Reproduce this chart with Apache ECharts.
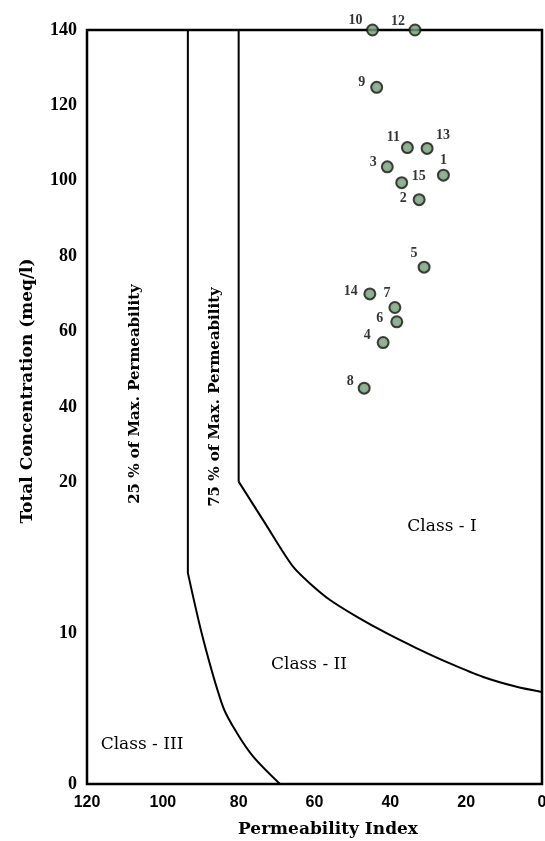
<!DOCTYPE html>
<html>
<head>
<meta charset="utf-8">
<script src="https://cdn.jsdelivr.net/npm/echarts@6/dist/echarts.min.js"></script>
<style>
  html, body { margin: 0; padding: 0; background: #fff; }
  #chart { width: 545px; height: 841px; }
</style>
</head>
<body>
<div id="chart"></div>
<script>
// ---- data ----
const pointIds   = ['1','2','3','4','5','6','7','8','9','10','11','12','13','14','15'];
const permIndex  = [26.0, 32.4, 40.8, 41.9, 31.1, 38.3, 38.8, 46.9, 43.6, 44.7, 35.5, 33.5, 30.3, 45.4, 37.0];
const totalConc  = [101.5, 95.0, 103.7, 57.1, 77.1, 62.6, 66.4, 45.0, 124.8, 140, 108.8, 140, 108.6, 70.0, 99.5];

const xTickValues = [0, 20, 40, 60, 80, 100, 120];
const yTickValues = [0, 10, 20, 40, 60, 80, 100, 120, 140];

// class boundaries (Permeability Index, Total Concentration)
const line75Vertical = [[80, 140], [80, 20.2]];
const line75Curve = [[80, 20.2], [72.8, 17.2], [69.1, 15.7], [65.6, 14.4], [61.2, 13.3], [55.9, 12.2],
                     [48.9, 11.1], [41.0, 10.0], [33.0, 9.0], [24.3, 8.0], [15.5, 7.1], [6.7, 6.45], [0, 6.1]];
const line25Vertical = [[93.4, 140], [93.4, 14.0]];
const line25Curve = [[93.4, 14.0], [89.3, 9.55], [84.1, 5.1], [80.5, 3.4], [76.1, 1.8], [69.1, 0]];

// label placement (styling)
const labelOffsets = {
  '1': [0, -15], '2': [-16, -1], '3': [-14, -4], '4': [-16, -7], '5': [-10, -14],
  '6': [-17, -3], '7': [-8, -14], '8': [-14, -7], '9': [-15, -5], '10': [-17, -10],
  '11': [-14, -10], '12': [-17, -9], '13': [16, -13], '14': [-19, -3], '15': [17, -6]
};

// broken y scale: 0..20 stretched 4x, 20..140 linear
function toD(y) { return y <= 20 ? y * 4 : y + 60; }
function fromD(d) { return d <= 80 ? d / 4 : d - 60; }
const yTickD = yTickValues.map(toD);

function conv(arr) { return arr.map(p => [p[0], toD(p[1])]); }

const chart = echarts.init(document.getElementById('chart'), null, { renderer: 'canvas' });

const scatterData = pointIds.map((id, i) => ({
  name: id,
  value: [permIndex[i], toD(totalConc[i])],
  label: { offset: labelOffsets[id] }
}));

const lineStyleBase = { color: '#000', width: 2 };

const option = {
  backgroundColor: '#fff',
  animation: false,
  grid: {
    left: 87, right: 3, top: 30, bottom: 57,
    outerBoundsMode: 'none', containLabel: false,
    show: true, borderColor: '#000', borderWidth: 2.5, backgroundColor: 'transparent'
  },
  xAxis: {
    type: 'value', min: 0, max: 120, interval: 20, inverse: true,
    axisLine: { show: false }, axisTick: { show: false }, splitLine: { show: false },
    axisLabel: {
      margin: 11, color: '#000',
      fontFamily: 'Liberation Sans', fontWeight: 'bold', fontSize: 16,
      formatter: v => xTickValues.indexOf(v) >= 0 ? String(v) : ''
    }
  },
  yAxis: {
    type: 'value', min: 0, max: 200, interval: 20,
    axisLine: { show: false }, axisTick: { show: false }, splitLine: { show: false },
    axisLabel: {
      margin: 10, color: '#000',
      fontFamily: 'Liberation Serif', fontWeight: 'bold', fontSize: 18,
      formatter: d => yTickD.indexOf(d) >= 0 ? String(fromD(d)) : ''
    }
  },
  series: [
    { type: 'line', data: conv(line75Vertical), symbol: 'none', lineStyle: lineStyleBase, silent: true, z: 1 },
    { type: 'line', data: conv(line75Curve), symbol: 'none', smooth: 0.25, lineStyle: lineStyleBase, silent: true, z: 1 },
    { type: 'line', data: conv(line25Vertical), symbol: 'none', lineStyle: lineStyleBase, silent: true, z: 1 },
    { type: 'line', data: conv(line25Curve), symbol: 'none', smooth: 0.3, lineStyle: lineStyleBase, silent: true, z: 1 },
    {
      type: 'scatter',
      data: scatterData,
      symbol: 'circle',
      symbolSize: 11,
      z: 5,
      itemStyle: {
        color: new echarts.graphic.RadialGradient(0.5, 0.5, 0.5, [
          { offset: 0, color: '#7c9cb0' },
          { offset: 0.6, color: '#6d9a5a' },
          { offset: 1, color: '#5e8a4e' }
        ]),
        borderColor: '#151515', borderWidth: 2
      },
      label: {
        show: true, position: 'inside', formatter: p => p.name,
        color: '#000', fontFamily: 'Liberation Serif', fontWeight: 'bold', fontSize: 14
      }
    }
  ],
  graphic: [
    { type: 'text', x: 28, y: 391, rotation: Math.PI / 2,
      style: { text: 'Total Concentration (meq/l)', align: 'center', verticalAlign: 'middle',
               font: 'bold 17px "DejaVu Serif"', fill: '#000' } },
    { type: 'text', x: 328, y: 830,
      style: { text: 'Permeability Index', align: 'center', verticalAlign: 'middle',
               font: 'bold 17px "DejaVu Serif"', fill: '#000' } },
    { type: 'text', x: 135, y: 394, rotation: Math.PI / 2,
      style: { text: '25 % of Max. Permeability', align: 'center', verticalAlign: 'middle',
               font: 'bold 15px "DejaVu Serif"', fill: '#000' } },
    { type: 'text', x: 215, y: 397, rotation: Math.PI / 2,
      style: { text: '75 % of Max. Permeability', align: 'center', verticalAlign: 'middle',
               font: 'bold 15px "DejaVu Serif"', fill: '#000' } },
    { type: 'text', x: 442, y: 527,
      style: { text: 'Class - I', align: 'center', verticalAlign: 'middle',
               font: '500 17px "DejaVu Serif"', fill: '#000' } },
    { type: 'text', x: 309, y: 665,
      style: { text: 'Class - II', align: 'center', verticalAlign: 'middle',
               font: '500 17px "DejaVu Serif"', fill: '#000' } },
    { type: 'text', x: 142, y: 745,
      style: { text: 'Class - III', align: 'center', verticalAlign: 'middle',
               font: '500 17px "DejaVu Serif"', fill: '#000' } }
  ]
};

chart.setOption(option);
</script>
</body>
</html>
